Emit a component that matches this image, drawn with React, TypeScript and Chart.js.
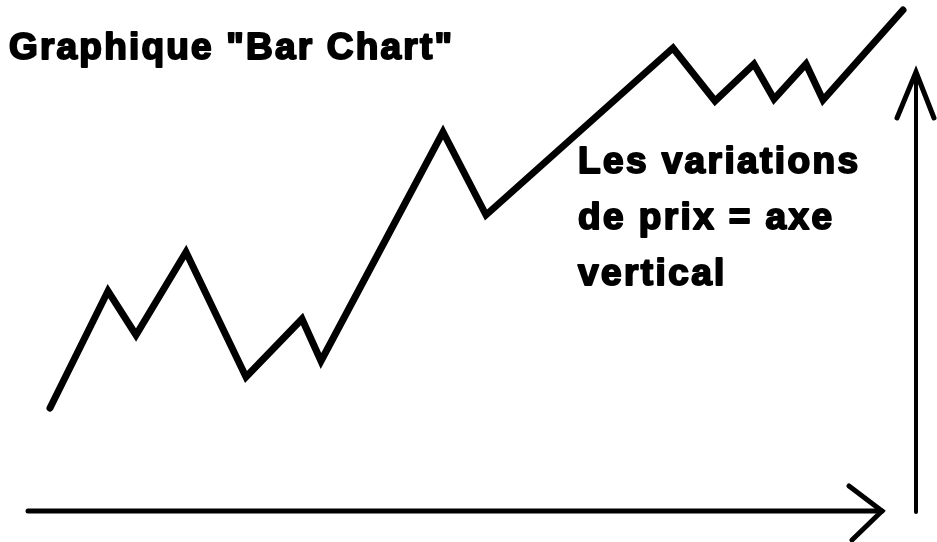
import React, { useEffect, useRef } from "react";
import { Chart, registerables } from "chart.js";

Chart.register(...registerables);

// Time index (horizontal) and price (vertical) of the zig-zag price path
const timeValues = [50, 108, 136, 186, 246, 302, 321, 443, 486, 673, 715, 754, 774, 806, 823, 903];
const priceValues = [134, 251, 207, 290, 165, 223, 181, 410, 327, 494, 441, 478, 443, 478, 442, 532];

const titleText = 'Graphique "Bar Chart"';
const noteLines = ["Les variations", "de prix = axe", "vertical"];

const W = 937;
const H = 542;

const overlayPlugin = {
  id: "overlay",
  afterDatasetsDraw(chart: any) {
    const ctx = chart.ctx as CanvasRenderingContext2D;
    const xs = chart.scales.x;
    const ys = chart.scales.y;
    const px = (v: number) => xs.getPixelForValue(v);
    const py = (v: number) => ys.getPixelForValue(v);
    ctx.save();
    ctx.strokeStyle = "#000";
    ctx.lineCap = "round";
    ctx.lineJoin = "miter";

    // horizontal (time) axis arrow
    ctx.lineWidth = 5;
    ctx.beginPath();
    ctx.moveTo(px(28), py(31));
    ctx.lineTo(px(882), py(31));
    ctx.stroke();
    ctx.beginPath();
    ctx.moveTo(px(849), py(56));
    ctx.lineTo(px(882), py(31));
    ctx.lineTo(px(852), py(2));
    ctx.stroke();

    // vertical (price) axis arrow
    ctx.lineWidth = 4;
    ctx.beginPath();
    ctx.moveTo(px(916), py(30));
    ctx.lineTo(px(916), py(470));
    ctx.stroke();
    ctx.lineWidth = 5;
    ctx.beginPath();
    ctx.moveTo(px(897), py(424));
    ctx.lineTo(px(916), py(470));
    ctx.lineTo(px(934), py(424));
    ctx.stroke();

    // texts (slightly outlined to match the heavy lettering)
    ctx.fillStyle = "#000";
    ctx.textBaseline = "alphabetic";
    ctx.textAlign = "left";
    ctx.lineJoin = "round";
    ctx.lineWidth = 2;
    ctx.font = "bold 37px 'Liberation Sans', Arial, sans-serif";
    (ctx as any).letterSpacing = "2.2px";
    ctx.fillText(titleText, 9, 59);
    ctx.strokeText(titleText, 9, 59);
    (ctx as any).letterSpacing = "2.4px";
    noteLines.forEach((line, i) => {
      ctx.fillText(line, 578, 173 + i * 56);
      ctx.strokeText(line, 578, 173 + i * 56);
    });
    ctx.restore();
  },
};

export default function App() {
  const ref = useRef<HTMLCanvasElement | null>(null);
  useEffect(() => {
    if (!ref.current) return;
    const chart = new Chart(ref.current, {
      type: "line",
      data: {
        datasets: [
          {
            label: "Prix",
            data: timeValues.map((t, i) => ({ x: t, y: priceValues[i] })),
            borderColor: "#000",
            borderWidth: 7,
            borderJoinStyle: "miter",
            borderCapStyle: "round",
            pointRadius: 0,
            tension: 0,
            fill: false,
          },
        ],
      },
      options: {
        responsive: false,
        animation: false,
        devicePixelRatio: 1,
        layout: { padding: 0 },
        plugins: { legend: { display: false }, tooltip: { enabled: false }, title: { display: false } },
        scales: {
          x: { type: "linear", min: 0, max: W, display: false },
          y: { type: "linear", min: 0, max: H, display: false },
        },
      },
      plugins: [overlayPlugin],
    });
    return () => chart.destroy();
  }, []);
  return (
    <div style={{ position: "fixed", left: 0, top: 0, width: W, height: H, background: "#fff" }}>
      <canvas ref={ref} width={W} height={H} style={{ display: "block" }} />
    </div>
  );
}
